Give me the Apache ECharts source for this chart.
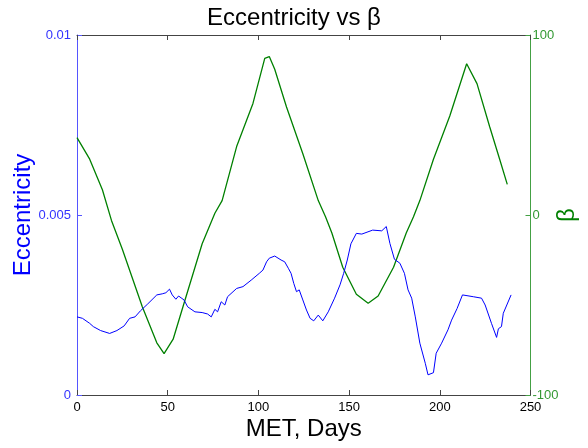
<!DOCTYPE html>
<html>
<head>
<meta charset="utf-8">
<script src="https://cdn.jsdelivr.net/npm/echarts@6/dist/echarts.min.js"></script>
<style>html,body{margin:0;padding:0;background:#fff;}#c{width:588px;height:448px;}</style>
</head>
<body>
<div id="c"></div>
<script>
var eccDays = [0,3,7,9,13,18,22,26,29,32,35,39,44,47,49,51,52.5,54.5,56,59,61,65,69,72,74,76,77.5,79.5,81.5,83,88,91.5,96,100.5,102.5,104.5,106,109,112.5,114.5,116.5,118,119.5,121,122.5,124.5,126.5,128.5,130.5,133,135.5,138.5,142,145,147,149,151,154,157,163,168,170.5,172.5,175,178,180.5,182.5,184.5,186.5,189,192,193.5,196.5,198,201,204.5,206.5,209.5,212.5,218.5,223,225,228.5,231.3,232.3,234,235,239.3];
var eccValues = [0.00217,0.00213,0.00199,0.00190,0.00179,0.00171,0.00179,0.00192,0.00213,0.00217,0.00234,0.00253,0.00278,0.00281,0.00284,0.00294,0.00278,0.00266,0.00275,0.00264,0.00245,0.00231,0.00229,0.00225,0.00217,0.00238,0.00231,0.00259,0.00250,0.00273,0.00296,0.00301,0.00319,0.00338,0.00347,0.00370,0.00380,0.00386,0.00375,0.00370,0.00352,0.00338,0.00310,0.00287,0.00292,0.00264,0.00236,0.00213,0.00206,0.00222,0.00206,0.00231,0.00269,0.00306,0.00338,0.00375,0.00420,0.00449,0.00447,0.00458,0.00456,0.00468,0.00421,0.00377,0.00366,0.00338,0.00292,0.00269,0.00217,0.00144,0.00088,0.00056,0.00062,0.00116,0.00144,0.00181,0.00208,0.00240,0.00278,0.00273,0.00269,0.00250,0.00199,0.00160,0.00184,0.00190,0.00227,0.00278];
var betaDays = [0,7,14,19,25,36,44,48,53,59,69,76,80,88,97,103.5,106,109,115.5,124.5,133,137,140.5,146.5,154,160.5,166,174.5,181.5,185.5,189,196.5,205.5,214.8,220.5,227.5,233,237.2];
var betaValues = [43,31,14,-3,-19,-51,-71,-77,-69,-49,-16,1,8,38,62,87,88,81,60,34,8,-1,-10,-29,-44,-49,-45,-29,-10,-1,8,31,55,84,73,49,31,17];
var xTicks = [0,50,100,150,200,250];

var chart = echarts.init(document.getElementById('c'), null, {renderer:'canvas'});
var font = 'Liberation Sans, Arial, sans-serif';
function pairs(xs, ys){ return xs.map(function(x,i){ return [x, ys[i]]; }); }
chart.setOption({
  animation:false,
  backgroundColor:'#fff',
  title:{text:'Eccentricity vs \u03b2', left:'center', top:1,
    textStyle:{fontFamily:font, fontSize:24, fontWeight:'normal', color:'#000'}},
  grid:{left:77, right:57.5, top:35, bottom:53, containLabel:false, outerBoundsMode:'none'},
  xAxis:[{
    type:'value', min:xTicks[0], max:xTicks[xTicks.length-1], interval:50, position:'bottom',
    name:'MET, Days', nameLocation:'middle', nameGap:22, nameMoveOverlap:false,
    nameTextStyle:{fontFamily:font, fontSize:24, color:'#000', verticalAlign:'top'},
    axisLine:{onZero:false, lineStyle:{color:'#444', width:1}},
    axisTick:{inside:true, length:5, lineStyle:{color:'#444'}},
    axisLabel:{fontFamily:font, fontSize:13, color:'#000', margin:6},
    splitLine:{show:false}
  },{
    type:'value', min:0, max:250, interval:50, position:'top',
    axisLine:{onZero:false, lineStyle:{color:'#444', width:1}},
    axisTick:{inside:true, length:5, lineStyle:{color:'#444'}},
    axisLabel:{show:false}, splitLine:{show:false}
  }],
  yAxis:[{
    type:'value', min:0, max:0.01, interval:0.005, position:'left',
    name:'Eccentricity', nameLocation:'middle', nameGap:42, nameRotate:90, nameMoveOverlap:false,
    nameTextStyle:{fontFamily:font, fontSize:24, color:'#0000ff'},
    axisLine:{show:true, onZero:false, lineStyle:{color:'#5555ff', width:1}},
    axisTick:{show:true, inside:true, length:5, lineStyle:{color:'#5555ff'}},
    axisLabel:{fontFamily:font, fontSize:13, color:'#3333ff', margin:6},
    splitLine:{show:false}
  },{
    type:'value', min:-100, max:100, interval:100, position:'right',
    name:'\u03b2', nameLocation:'middle', nameGap:25, nameRotate:90, nameMoveOverlap:false,
    nameTextStyle:{fontFamily:font, fontSize:24, color:'#008000'},
    axisLine:{show:true, onZero:false, lineStyle:{color:'#44a044', width:1}},
    axisTick:{show:true, inside:true, length:5, lineStyle:{color:'#44a044'}},
    axisLabel:{fontFamily:font, fontSize:13, color:'#339933', margin:2},
    splitLine:{show:false}
  }],
  series:[{
    type:'line', xAxisIndex:0, yAxisIndex:0, data:pairs(eccDays, eccValues),
    showSymbol:false, lineStyle:{color:'#0000ff', width:1}, z:3
  },{
    type:'line', xAxisIndex:0, yAxisIndex:1, data:pairs(betaDays, betaValues),
    showSymbol:false, lineStyle:{color:'#008000', width:1.3}, z:2
  }]
});
</script>
</body>
</html>
